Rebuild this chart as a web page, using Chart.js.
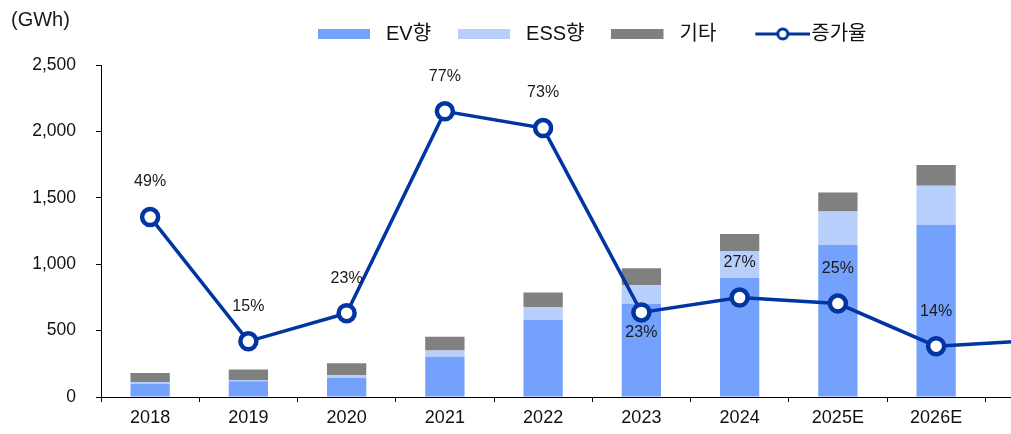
<!DOCTYPE html>
<html>
<head>
<meta charset="utf-8">
<script src="https://cdn.jsdelivr.net/npm/chart.js@4.4.1/dist/chart.umd.min.js"></script>
<style>
html,body{margin:0;padding:0;background:#fff;overflow:hidden;}
#wrap{position:relative;width:1096px;height:434px;}
</style>
</head>
<body>
<div id="wrap"><canvas id="mycanvas"></canvas></div>
<script>
// data (GWh, %)
var years=['2018','2019','2020','2021','2022','2023','2024','2025E','2026E','2027E'];
var evVals=[100,118,145,303,580,703,896,1145,1295,null];
var essVals=[13,10,20,48,98,139,203,251,296,null];
var etcVals=[68,80,90,102,108,128,128,143,156,null];
var growth=[48.5,15,22.6,77,72.5,22.8,26.8,25.2,13.7,15.2];
var seriesNames=['EV향','ESS향','기타','증가율'];

var blue='#0035a2';
var sans="'Liberation Sans','Noto Sans CJK KR',sans-serif";
var layoutTop=-3;

function barIcon(color){
	var c=document.createElement('canvas');
	c.width=58;c.height=10;
	var x=c.getContext('2d');
	x.fillStyle=color;
	x.fillRect(0,0,52,10);
	return c;
}
function lineIcon(){
	var c=document.createElement('canvas');
	c.width=76;c.height=16;
	var x=c.getContext('2d');
	x.strokeStyle=blue;x.lineWidth=3;
	x.beginPath();x.moveTo(21,8);x.lineTo(76,8);x.stroke();
	x.beginPath();x.arc(48.5,8,5,0,Math.PI*2);
	x.fillStyle='#fff';x.fill();x.stroke();
	return c;
}
var icons=[barIcon('#73a1fc'),barIcon('#b8cffb'),barIcon('#808080'),lineIcon()];

// keep the plot top at the 2,500 line
var legendSpace={
	id:'legendSpace',
	beforeInit:function(chart){
		var fit=chart.legend.fit;
		chart.legend.fit=function(){
			fit.call(this);
			this.height=65-layoutTop;
		};
	}
};

var extras={
	id:'extras',
	afterDatasetsDraw:function(chart){
		var ctx=chart.ctx;
		var meta=chart.getDatasetMeta(3);
		ctx.save();
		ctx.font='16px '+sans;
		ctx.fillStyle='#1a1a1a';
		ctx.textAlign='center';
		ctx.textBaseline='middle';
		meta.data.forEach(function(pt,i){
			var dy=(years[i]==='2023')?20:-35;
			ctx.fillText(Math.round(growth[i])+'%',pt.x,pt.y+dy);
		});
		ctx.font='20px '+sans;
		ctx.textAlign='left';
		ctx.fillText('(GWh)',11,20);
		ctx.restore();
	}
};

var ctx=document.getElementById('mycanvas');
var chart=new Chart(ctx,{
	type:'bar',
	data:{
		labels:years,
		datasets:[
			{label:seriesNames[0],data:evVals,backgroundColor:'#73a1fc',order:1,barPercentage:0.4,categoryPercentage:1},
			{label:seriesNames[1],data:essVals,backgroundColor:'#b8cffb',order:1,barPercentage:0.4,categoryPercentage:1},
			{label:seriesNames[2],data:etcVals,backgroundColor:'#808080',order:1,barPercentage:0.4,categoryPercentage:1},
			{
				type:'line',label:seriesNames[3],data:growth,yAxisID:'y1',order:0,
				borderColor:blue,borderWidth:3.5,backgroundColor:'#fff',
				pointRadius:8,pointBorderWidth:4.5,pointBackgroundColor:'#fff',pointBorderColor:blue,
				pointHoverRadius:8,tension:0
			}
		]
	},
	options:{
		responsive:true,
		maintainAspectRatio:false,
		animation:false,
		layout:{padding:{top:layoutTop,right:7.5,bottom:0,left:0}},
		plugins:{
			tooltip:{enabled:false},
			legend:{
				position:'top',
				fullSize:false,
				labels:{
					usePointStyle:true,
					pointStyleWidth:58,
					boxHeight:10,
					padding:27,
					color:'#111',
					font:{family:sans,size:20},
					generateLabels:function(chart){
						var items=Chart.defaults.plugins.legend.labels.generateLabels(chart);
						items.forEach(function(it){it.pointStyle=icons[it.datasetIndex];});
						return items;
					},
					sort:function(a,b){return a.datasetIndex-b.datasetIndex;}
				}
			}
		},
		scales:{
			x:{
				stacked:true,
				grid:{drawOnChartArea:false,drawTicks:true,tickLength:5,color:'#000',offset:true},
				border:{display:true,color:'#000',width:1},
				ticks:{
					font:{family:sans,size:18},padding:5,maxRotation:0,autoSkip:false,
					color:function(c){return c.index===years.length-1?'rgba(0,0,0,0)':'#111';}
				},
				afterFit:function(s){s.height=37;}
			},
			y:{
				stacked:true,
				min:0,max:2500,
				grid:{drawOnChartArea:false,drawTicks:true,tickLength:5,color:'#000'},
				border:{display:true,color:'#000',width:1},
				ticks:{
					stepSize:500,color:'#111',padding:20,
					font:{family:sans,size:17.5},
					callback:function(v){return v.toLocaleString('en-US');}
				},
				afterFit:function(s){s.width=101;}
			},
			y1:{display:false,min:0,max:89.5,position:'right'}
		}
	},
	plugins:[legendSpace,extras]
});
</script>
</body>
</html>
